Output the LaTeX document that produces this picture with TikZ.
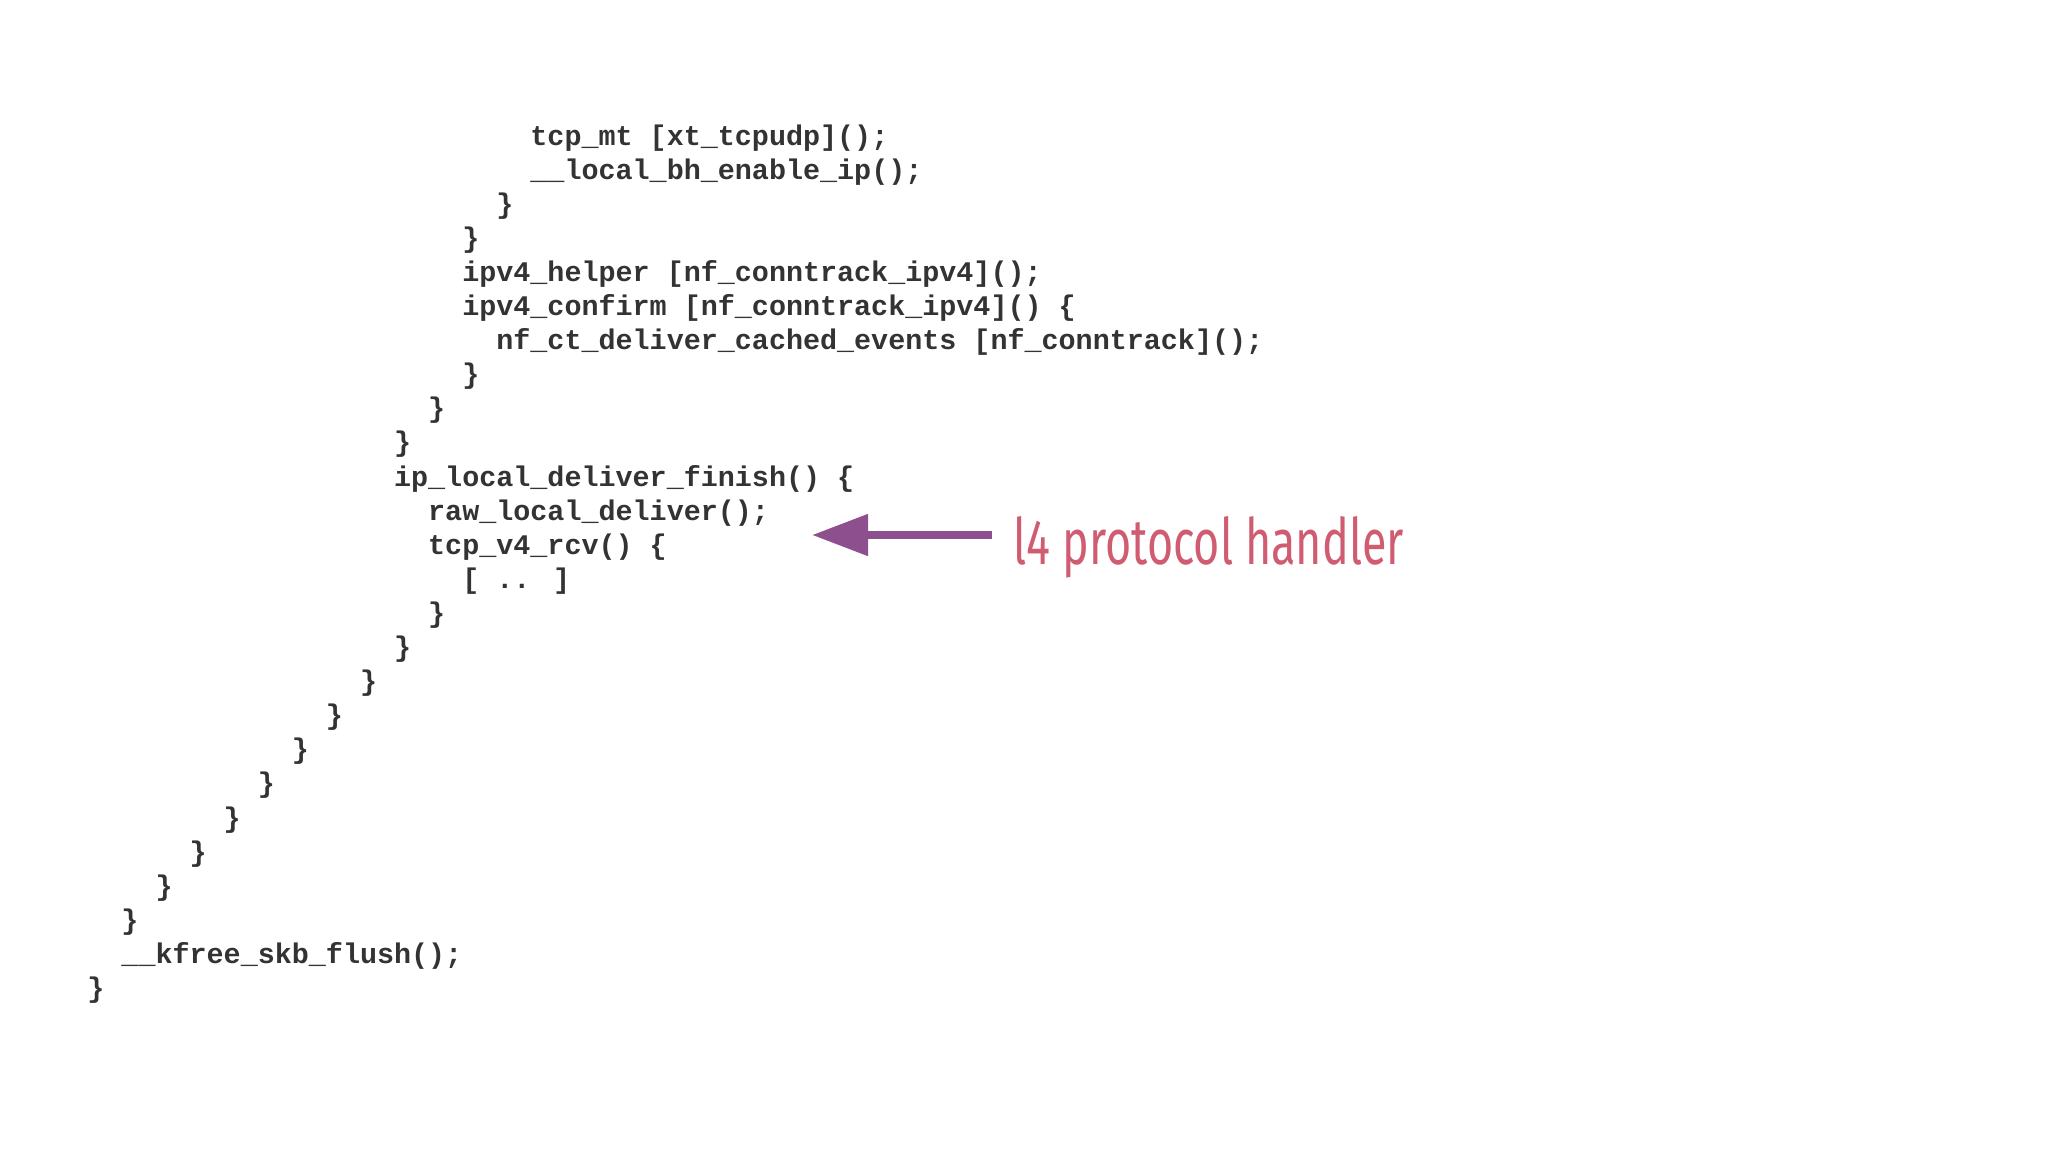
\documentclass[tikz,border=0pt]{standalone}
\usepackage{fontspec}
\setmainfont{Fira Sans}
\newfontfamily\codefont{Liberation Mono}
\usetikzlibrary{arrows.meta}
\definecolor{codegray}{HTML}{333333}
\definecolor{arrpurple}{HTML}{8E4F8E}
\definecolor{lblred}{HTML}{D05C72}
\tikzset{codeline/.style={anchor=base west,inner sep=0pt,text=codegray,font=\codefont\bfseries\fontsize{14.2pt}{17pt}\selectfont}}
\newcommand{\cl}[3]{\node[codeline] (l#1) at ({43.5pt+8.52pt*#2},{-72.5pt-17.05pt*(#1-1)}) {#3};}
\begin{document}
\begin{tikzpicture}
\useasboundingbox (0,0) rectangle (1024pt,-576pt);
\cl{1}{26}{tcp\_mt [xt\_tcpudp]();}
\cl{2}{26}{\_\_local\_bh\_enable\_ip();}
\cl{3}{24}{\}}
\cl{4}{22}{\}}
\cl{5}{22}{ipv4\_helper [nf\_conntrack\_ipv4]();}
\cl{6}{22}{ipv4\_confirm [nf\_conntrack\_ipv4]() \{}
\cl{7}{24}{nf\_ct\_deliver\_cached\_events [nf\_conntrack]();}
\cl{8}{22}{\}}
\cl{9}{20}{\}}
\cl{10}{18}{\}}
\cl{11}{18}{ip\_local\_deliver\_finish() \{}
\cl{12}{20}{raw\_local\_deliver();}
\cl{13}{20}{tcp\_v4\_rcv() \{}
\cl{14}{22}{[ .. ]}
\cl{15}{20}{\}}
\cl{16}{18}{\}}
\cl{17}{16}{\}}
\cl{18}{14}{\}}
\cl{19}{12}{\}}
\cl{20}{10}{\}}
\cl{21}{8}{\}}
\cl{22}{6}{\}}
\cl{23}{4}{\}}
\cl{24}{2}{\}}
\cl{25}{2}{\_\_kfree\_skb\_flush();}
\cl{26}{0}{\}}
\node[anchor=base west,inner sep=0pt,text=lblred] (lab) at (506.7pt,-282pt)
  {\resizebox{195pt}{24pt}{\fontsize{34pt}{34pt}\selectfont l4 protocol handler}};
\coordinate (tail) at (496pt,-267.5pt);
\coordinate (tip) at (406pt,-267.5pt);
\draw[arrpurple,line width=4pt,-{Triangle[length=28pt,width=20pt]}] (tail) -- (tip);
\end{tikzpicture}
\end{document}
